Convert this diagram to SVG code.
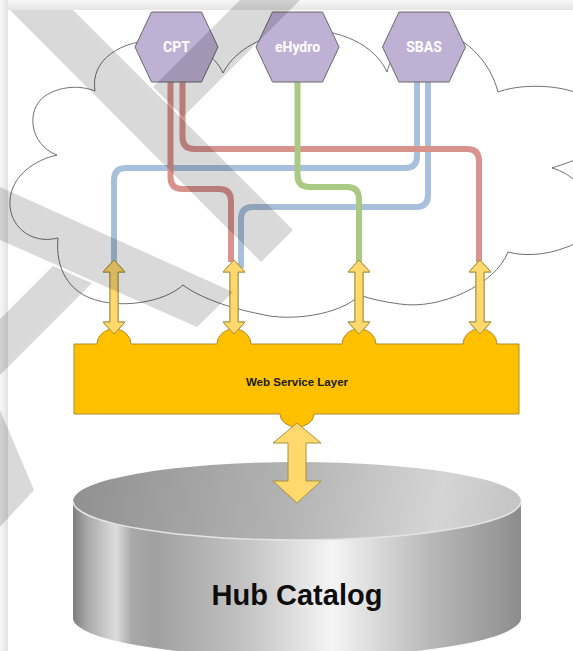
<svg xmlns="http://www.w3.org/2000/svg" width="573" height="651" viewBox="0 0 573 651">
<style>
.cloud{fill:#ffffff;stroke:#707070;stroke-width:1}
.line{fill:none;stroke-width:6;stroke-linecap:butt;stroke-linejoin:round}
.red{stroke:#d9938d}
.blue{stroke:#a9c0dc}
.green{stroke:#aac982}
.hex{fill:#bfb1d4;stroke:#686868;stroke-width:1}
.hexlabel{font-family:Roboto,"Liberation Sans",sans-serif;font-weight:bold;font-size:14px;fill:#ffffff;text-anchor:middle}
.arrow{fill:#ffd96e;stroke:#a8913c;stroke-width:1;stroke-linejoin:miter}
.box{fill:#ffc000;stroke:#b08b2a;stroke-width:1}
.boxlabel{font-family:"Liberation Sans",Arial,sans-serif;font-weight:bold;font-size:11.5px;fill:#1a1a1a;text-anchor:middle}
.dblabel{font-family:"Liberation Sans",Arial,sans-serif;font-weight:bold;font-size:29px;fill:#0d0d0d;text-anchor:middle}
.wm{fill:#000000;fill-opacity:0.15}
</style>
<defs>
<linearGradient id="topStrip" x1="0" y1="0" x2="0" y2="1">
<stop offset="0" stop-color="#f7f7f7"/><stop offset="1" stop-color="#e5e5e5"/>
</linearGradient>
<linearGradient id="leftStrip" x1="0" y1="0" x2="1" y2="0">
<stop offset="0" stop-color="#f7f7f7"/><stop offset="1" stop-color="#e2e2e2"/>
</linearGradient>
<linearGradient id="cylSide" gradientUnits="userSpaceOnUse" x1="74" y1="0" x2="520" y2="0">
<stop offset="0" stop-color="#808080"/>
<stop offset="0.03" stop-color="#a9a9a9"/>
<stop offset="0.08" stop-color="#d2d2d2"/>
<stop offset="0.095" stop-color="#dcdcdc"/>
<stop offset="0.13" stop-color="#a8a8a8"/>
<stop offset="0.18" stop-color="#a0a0a0"/>
<stop offset="0.40" stop-color="#c6c6c6"/>
<stop offset="0.58" stop-color="#f5f5f5"/>
<stop offset="0.64" stop-color="#e4e4e4"/>
<stop offset="0.80" stop-color="#b8b8b8"/>
<stop offset="0.95" stop-color="#999999"/>
<stop offset="1" stop-color="#8c8c8c"/>
</linearGradient>
<linearGradient id="cylTop" gradientUnits="userSpaceOnUse" x1="74" y1="470" x2="500" y2="540">
<stop offset="0" stop-color="#909090"/>
<stop offset="0.5" stop-color="#b3b3b3"/>
<stop offset="0.85" stop-color="#d5d5d5"/>
<stop offset="1" stop-color="#c6c6c6"/>
</linearGradient>
</defs>

<rect x="0" y="0" width="573" height="651" fill="#ffffff"/>
<rect x="0" y="0" width="573" height="10" fill="url(#topStrip)"/>
<rect x="0" y="0" width="8" height="651" fill="url(#leftStrip)"/>

<g id="cloud">
<path class="cloud" d="M95,91 C90,60 120,40 160,40 C195,42 215,55 223,73 C232,55 255,36 297,30 C340,28 375,45 387,72 C392,52 410,30 430,30 C462,32 490,60 498,92 C530,80 605,85 603,125 C600,155 575,160 552,168 C595,180 605,235 567,247 C545,256 522,256 508,252 C495,285 440,310 400,304 C385,302 370,299 360,295 C340,315 290,322 260,314 C230,308 200,298 183,285 C165,302 120,310 90,298 C70,290 55,270 58,238 C30,245 8,225 10,200 C12,175 35,160 57,155 C30,145 25,110 45,96 C60,86 80,85 95,91 Z"/>
</g>

<g id="connectors">
<path class="line blue" d="M417,82 V156 Q417,168 405,168 H126 Q114,168 114,180 V262"/>
<path class="line blue" d="M428,82 V195 Q428,207 416,207 H253 Q241,207 241,219 V268"/>
<path class="line red" d="M170.5,82 V177 Q170.5,189 182.5,189 H219 Q231,189 231,201 V262"/>
<path class="line red" d="M182.5,82 V137 Q182.5,149 194.5,149 H467 Q479,149 479,161 V262"/>
<path class="line green" d="M297.5,82 V175 Q297.5,187 309.5,187 H347 Q359,187 359,199 V262"/>
<path class="arrow" d="M114,260 L125,272 L118,272 L118,322 L125,322 L114,334 L103,322 L110,322 L110,272 L103,272 Z"/>
<path class="arrow" d="M234,260 L245,272 L238,272 L238,322 L245,322 L234,334 L223,322 L230,322 L230,272 L223,272 Z"/>
<path class="arrow" d="M359,260 L370,272 L363,272 L363,322 L370,322 L359,334 L348,322 L355,322 L355,272 L348,272 Z"/>
<path class="arrow" d="M480,260 L491,272 L484,272 L484,322 L491,322 L480,334 L469,322 L476,322 L476,272 L469,272 Z"/>
</g>

<g id="node-cpt">
<polygon class="hex" points="135,47 151.5,12 201.5,12 218,47 201.5,82 151.5,82"/>
<text class="hexlabel" x="176.5" y="52">CPT</text>
</g>
<g id="node-ehydro">
<polygon class="hex" points="256,47 272.5,12 322.5,12 339,47 322.5,82 272.5,82"/>
<text class="hexlabel" x="297.5" y="52">eHydro</text>
</g>
<g id="node-sbas">
<polygon class="hex" points="382.5,47 399,12 449,12 465.5,47 449,82 399,82"/>
<text class="hexlabel" x="424" y="52">SBAS</text>
</g>

<g id="node-web-service-layer">
<path class="box" d="M74,344 H97 A17,15 0 0 1 131,344 H217 A17,15 0 0 1 251,344 H342 A17,15 0 0 1 376,344 H463 A17,15 0 0 1 497,344 H519 V414 H314 A17,13 0 0 1 280,414 H74 Z"/>
<text class="boxlabel" x="297" y="386">Web Service Layer</text>
</g>
<g id="arrows-small-over">
<path class="arrow" d="M114,260 L125,272 L118,272 L118,322 L125,322 L114,334 L103,322 L110,322 L110,272 L103,272 Z"/>
<path class="arrow" d="M234,260 L245,272 L238,272 L238,322 L245,322 L234,334 L223,322 L230,322 L230,272 L223,272 Z"/>
<path class="arrow" d="M359,260 L370,272 L363,272 L363,322 L370,322 L359,334 L348,322 L355,322 L355,272 L348,272 Z"/>
<path class="arrow" d="M480,260 L491,272 L484,272 L484,322 L491,322 L480,334 L469,322 L476,322 L476,272 L469,272 Z"/>
</g>

<g id="node-hub-catalog">
<path d="M73,501 V618 A224,39 0 0 0 521,618 V501 A224,39 0 0 1 73,501 Z" fill="url(#cylSide)"/>
<ellipse cx="297" cy="501" rx="224" ry="39" fill="url(#cylTop)"/>
<path d="M73,501 A224,39 0 0 0 521,501" fill="none" stroke="#e4e4e4" stroke-width="1.5"/>
<text class="dblabel" x="297" y="605">Hub Catalog</text>
</g>

<g id="arrow-main">
<path class="arrow" d="M297,423 L321,443 L306,443 L306,481 L321,481 L297,503 L273,481 L288,481 L288,443 L273,443 Z"/>
</g>

<g id="watermark">
<polygon class="wm" points="10,10 73,10 293,230 261,262"/>
<polygon class="wm" points="240,0 300,0 183,117 153,87"/>
<polygon class="wm" points="0,187 233,292 197,327 0,240"/>
<polygon class="wm" points="53,266 92,283 0,375 0,319"/>
<polygon class="wm" points="0,410 34,490 0,527"/>
</g>
</svg>
